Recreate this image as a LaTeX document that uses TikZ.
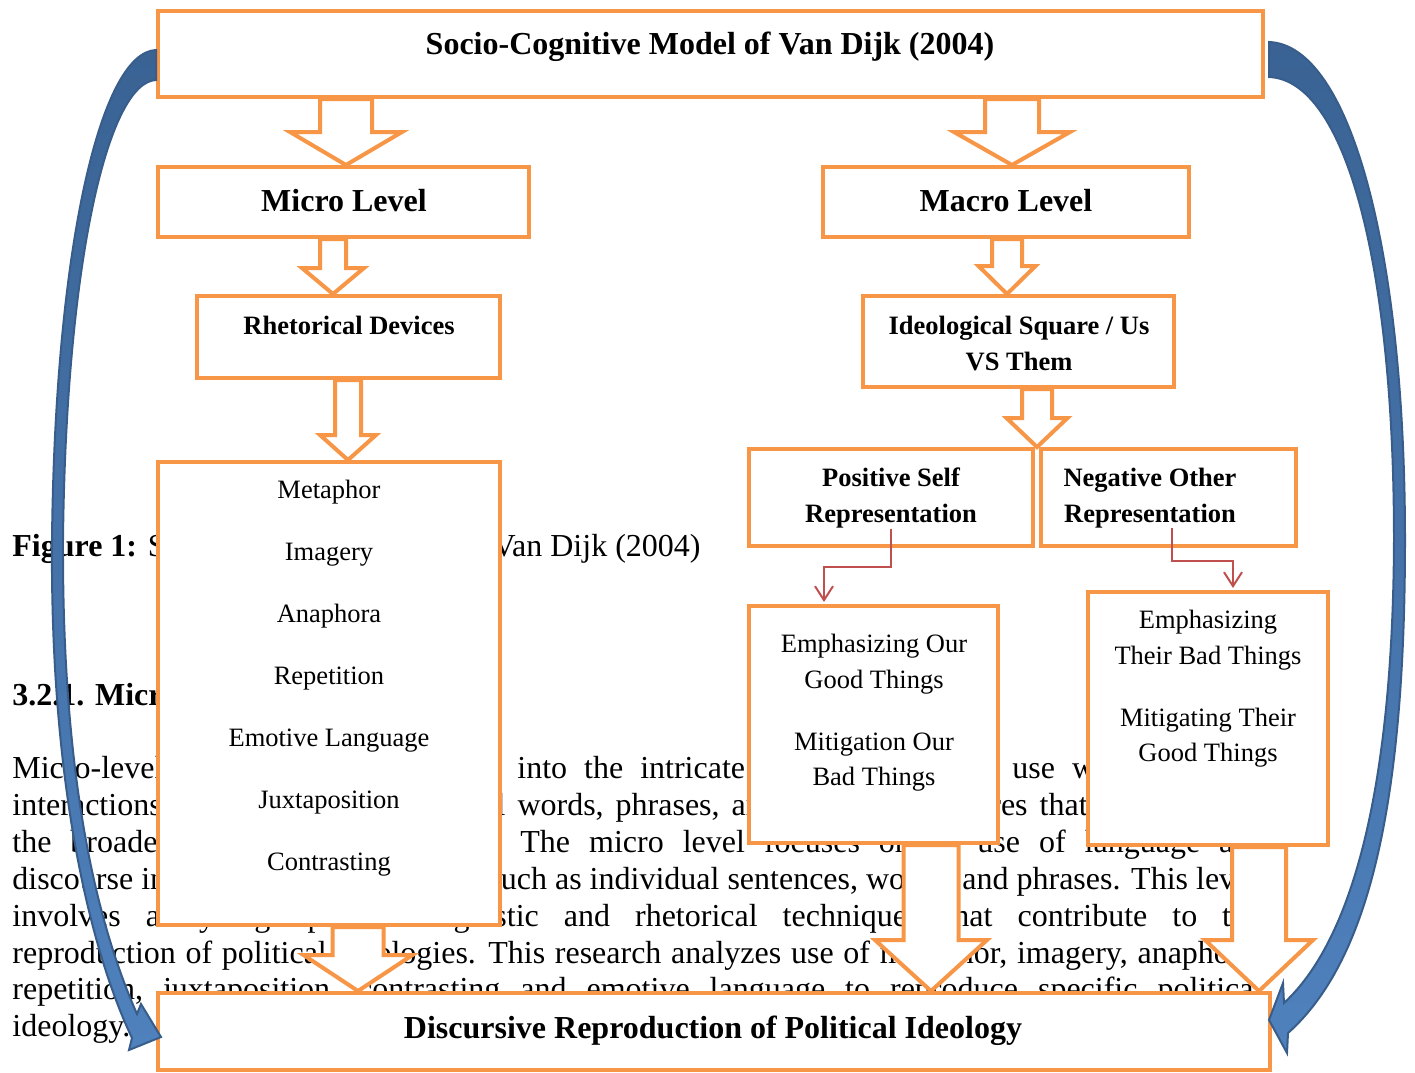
\documentclass[tikz,border=0pt]{standalone}
\usepackage{fontspec}
\setmainfont{Liberation Serif}
\usetikzlibrary{calc,arrows.meta}
\definecolor{orange}{HTML}{F79646}
\definecolor{red}{HTML}{C0504D}
\definecolor{blue}{HTML}{4F81BD}
\definecolor{darkblue}{HTML}{3A6394}
\definecolor{edgeblue}{HTML}{385D8A}
\newlength{\unitpx}
\setlength{\unitpx}{0.5pt}

% hollow arrow from box #1 down to box #2 at x=#3: shaft, head, head length
\newcommand{\blockdown}[6]{%
  \draw[blockarrow] let \p1=(#1.south), \p2=(#2.north), \p3=(#3,0) in
    (\x3-#4,\y1) -- (\x3-#4,\y2+#6) -- (\x3-#5,\y2+#6) -- (\x3,\y2)
    -- (\x3+#5,\y2+#6) -- (\x3+#4,\y2+#6) -- (\x3+#4,\y1) -- cycle;}

\begin{document}
\begin{tikzpicture}[x=0.5pt,y=-0.5pt,
  box/.style={draw=orange,line width=2pt,fill=white,inner sep=0pt},
  blockarrow/.style={draw=orange,line width=2pt,fill=white,line join=miter},
  redlink/.style={draw=red,line width=1pt,shorten >=1pt,-{Straight Barb[length=7pt,width=9pt]}},
  bluearrow/.style={draw=edgeblue,line width=1pt,top color=darkblue,bottom color=blue},
  headline/.style={font=\bfseries\fontsize{16}{19}\selectfont,inner sep=0pt},
  boxlabel/.style={font=\bfseries\fontsize{13.25}{18}\selectfont,align=center,inner sep=0pt},
  entry/.style={font=\fontsize{13.25}{17.75}\selectfont,align=center,inner sep=0pt},
  body/.style={font=\fontsize{16}{18.5}\selectfont,anchor=base west,inner sep=0pt}]
  \useasboundingbox (0,0) rectangle (1415,1072);

  % page text behind the figure
  \node (caption) at (12,556)[body]{\textbf{Figure 1:} S};
  \node (captionend) at (701,556)[body,anchor=base east]{Van Dijk (2004)};
  \node (heading) at (12,705)[body]{\textbf{3.2.1. Micro}};
  \foreach \x/\y/\gap/\txt in {
    12/778/17/{Micro-level}, 517/778/17/{into the intricate}, 1012/778/17/{use within},
    12/815/12/{interactions}, 482/815/12/{al words, phrases, and}, 926/815/12/{features that},
    12/852/19/{the broader}, 520/852/19/{The micro level focuses on}, 977/852/19/{use of language and},
    12/889/8/{discourse in}, 488/889/8/{such as individual sentences, words}, 962/889/8/{and phrases. This level},
    12/926/25/{involves analyzing specific linguistic and rhetorical techniques that contribute to the},
    12/963/9.7/{reproduction of political}, 336/963/9.7/{ideologies. This research analyzes use of metaphor, imagery, anaphora,},
    12/999/20/{repetition, juxtaposition, contrasting and emotive language to reproduce specific political},
    12/1036/8/{ideology.}}
    \node (line-\x-\y) at (\x,\y)[body]{\spaceskip=\gap\unitpx\relax\txt};

  % boxes
  \node (model) at (710.5,54)[box,minimum width=552.5pt,minimum height=43pt]{};
  \node (micro) at (343.5,202)[box,minimum width=185.5pt,minimum height=35pt]{};
  \node (macro) at (1006,202)[box,minimum width=183pt,minimum height=35pt]{};
  \node (rhet) at (348.5,337)[box,minimum width=151.5pt,minimum height=41pt]{};
  \node (ideo) at (1018.5,341.5)[box,minimum width=155.5pt,minimum height=45.5pt]{};
  \node (devices) at (329,693.5)[box,minimum width=171pt,minimum height=231.5pt]{};
  \node (positive) at (891,497.5)[box,minimum width=142pt,minimum height=48.5pt]{};
  \node (negative) at (1168.5,497.5)[box,minimum width=127.5pt,minimum height=48.5pt]{};
  \node (ourthings) at (873.5,724.5)[box,minimum width=124.5pt,minimum height=118.5pt]{};
  \node (theirthings) at (1208,718.5)[box,minimum width=120pt,minimum height=126.5pt]{};
  \node (ideology) at (714,1031.5)[box,minimum width=556pt,minimum height=38.5pt]{};

  \blockdown{model}{micro}{346}{13pt}{28pt}{16.5pt}
  \blockdown{model}{macro}{1012}{13.5pt}{29pt}{16.5pt}
  \blockdown{micro}{rhet}{333}{6.5pt}{15.5pt}{13pt}
  \blockdown{macro}{ideo}{1007}{7.5pt}{14.25pt}{14pt}
  \blockdown{rhet}{devices}{348}{6.5pt}{14pt}{12.5pt}
  \blockdown{ideo}{positive}{1037}{7.5pt}{15.25pt}{14.5pt}
  \blockdown{devices}{ideology}{358}{12.75pt}{27.25pt}{18pt}
  \blockdown{ourthings}{ideology}{931}{13.75pt}{28pt}{25.5pt}
  \blockdown{theirthings}{ideology}{1259}{13.5pt}{27pt}{25.5pt}

  % texts
  \node (modeltext) at (710,54)[headline,anchor=base]{Socio-Cognitive Model of Van Dijk (2004)};
  \node (microtext) at (344,211)[headline,anchor=base]{Micro Level};
  \node (macrotext) at (1006,211)[headline,anchor=base]{Macro Level};
  \node (rhettext) at (349,334)[boxlabel,anchor=base]{Rhetorical Devices};
  \node (ideotext) at (1019,343)[boxlabel]{Ideological Square / Us\\VS Them};
  \node (postext) at (891,498)[boxlabel]{Positive Self\\Representation};
  \node (negtext) at (1150,498)[boxlabel]{Negative Other\\Representation};
  \node (devicetext) at (329,678)[entry,font=\fontsize{13.25}{31}\selectfont]{Metaphor\\Imagery\\Anaphora\\Repetition\\Emotive Language\\Juxtaposition\\Contrasting};
  \node (ourtext) at (874,713)[entry]{Emphasizing Our\\Good Things\\[13.25pt]Mitigation Our\\Bad Things};
  \node (theirtext) at (1208,689)[entry]{Emphasizing\\Their Bad Things\\[13.25pt]Mitigating Their\\Good Things};
  \node (ideologytext) at (713,1038)[headline,anchor=base]{Discursive Reproduction of Political Ideology};

  \draw[redlink] (postext.south) -- ++(0,38) -| ([xshift=-24.75pt]ourthings.north);
  \draw[redlink] ([xshift=11pt]negtext.south) -- ++(0,33) -| ([xshift=12.5pt]theirthings.north);

  % curved arrows round the whole figure
  \draw[bluearrow] ($(model.west)+(0,-4)$) .. controls (100,52) and (55,250) .. (52,540)
    .. controls (50,800) and (95,960) .. (132,1038) -- (129,1050) -- ($(ideology.west)+(5,5.5)$)
    -- (141,1004) -- (137,1014) .. controls (100,930) and (62,790) .. (63,540)
    .. controls (66,262) and (108,82) .. ($(model.west)+(0,26)$) -- cycle;
  \draw[bluearrow] ($(model.east)+(4,-12)$) .. controls (1350,45) and (1405,250) .. (1405,540)
    .. controls (1405,800) and (1370,960) .. (1288,1033) -- (1287,1053) -- ($(ideology.east)+(-3,-11.5)$)
    -- (1283,983) -- (1284,1003) .. controls (1352,940) and (1393,790) .. (1394,540)
    .. controls (1394,262) and (1345,80) .. ($(model.east)+(4,23)$) -- cycle;
\end{tikzpicture}
\end{document}
